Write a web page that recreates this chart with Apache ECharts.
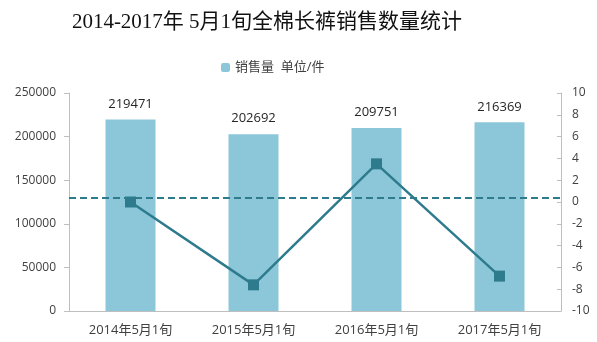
<!DOCTYPE html>
<html>
<head>
<meta charset="utf-8">
<script src="https://cdn.jsdelivr.net/npm/echarts@6/dist/echarts.min.js"></script>
<style>html,body{margin:0;padding:0;background:#fff}#chart{width:597px;height:342px}</style>
</head>
<body>
<div id="chart"></div>
<script>
// 各年5月1旬销量（件）及变化幅度
const categories = ['2014年5月1旬', '2015年5月1旬', '2016年5月1旬', '2017年5月1旬'];
const salesVolume = [219471, 202692, 209751, 216369];
const changeRate = [0, -7.6, 3.5, -6.8];
const referenceLevel = 0.4;
const leftTicks = [0, 50000, 100000, 150000, 200000, 250000];
const rightTicks = [-10, -8, -6, -4, -2, 0, 2, 4, 6, 8, 10];

const chart = echarts.init(document.getElementById('chart'));
const labelFont = "'Open Sans', 'Noto Sans CJK SC', sans-serif";
chart.setOption({
  animation: false,
  title: {
    text: '2014-2017年 5月1旬全棉长裤销售数量统计',
    left: 262, top: 7, textAlign: 'center',
    textStyle: { fontFamily: "'Liberation Serif', 'Noto Sans CJK SC', serif", fontSize: 21, fontWeight: 'normal', color: '#111' }
  },
  legend: {
    data: ['销售量  单位/件'],
    left: 216, top: 56,
    itemWidth: 9, itemHeight: 9, itemGap: 3,
    textStyle: { fontFamily: labelFont, fontSize: 13, color: '#404040' }
  },
  grid: { left: 69, right: 36, top: 93, bottom: 31 },
  xAxis: {
    type: 'category', data: categories,
    axisLine: { lineStyle: { color: '#bfbfbf' } },
    axisTick: { show: false },
    axisLabel: { fontFamily: labelFont, fontSize: 13, color: '#404040', margin: 13 }
  },
  yAxis: [
    {
      type: 'value', min: leftTicks[0], max: leftTicks[leftTicks.length - 1], interval: 50000,
      axisLine: { show: true, lineStyle: { color: '#bfbfbf' } },
      axisTick: { show: true, length: 5, lineStyle: { color: '#bfbfbf' } },
      splitLine: { show: false },
      axisLabel: { fontFamily: labelFont, fontSize: 12, color: '#404040', margin: 13, formatter: v => String(v) }
    },
    {
      type: 'value', min: rightTicks[0], max: rightTicks[rightTicks.length - 1], interval: 2,
      axisLine: { show: true, lineStyle: { color: '#bfbfbf' } },
      axisTick: { show: true, inside: true, length: 4, lineStyle: { color: '#bfbfbf' } },
      splitLine: { show: false },
      axisLabel: { fontFamily: labelFont, fontSize: 12, color: '#404040', margin: 11 }
    }
  ],
  series: [
    {
      name: '销售量  单位/件', type: 'bar', data: salesVolume, barWidth: 50,
      itemStyle: { color: '#8bc7d8' },
      label: { show: true, position: 'top', distance: 9, fontFamily: labelFont, fontSize: 13, color: '#262626' }
    },
    {
      name: '变化', type: 'line', yAxisIndex: 1, data: changeRate,
      symbol: 'rect', symbolSize: 11,
      lineStyle: { color: '#2f7b8e', width: 2.5 },
      itemStyle: { color: '#2f7b8e' },
      markLine: {
        silent: true, symbol: 'none', label: { show: false },
        lineStyle: { color: '#2f7b8e', type: [7, 4], width: 2 },
        data: [{ yAxis: referenceLevel }]
      }
    }
  ]
});
</script>
</body>
</html>
